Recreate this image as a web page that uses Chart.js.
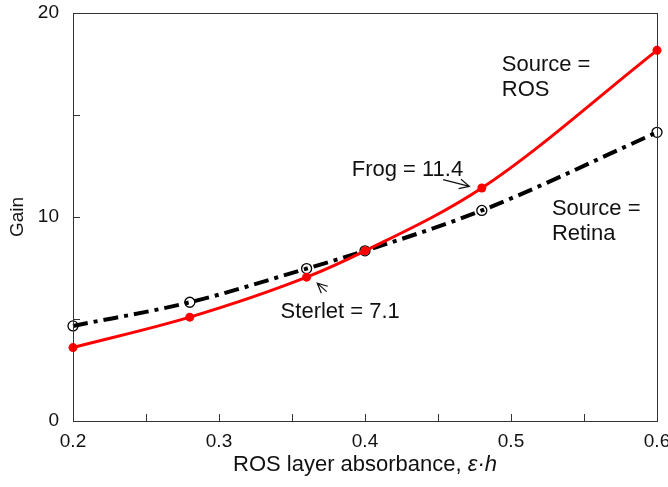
<!DOCTYPE html>
<html lang="en">
<head>
    <meta charset="UTF-8">
    <title>Gain vs ROS layer absorbance</title>
    <script src="https://cdn.jsdelivr.net/npm/chart.js"></script>
    <style>
        html, body { margin: 0; padding: 0; background: white; }
        .contenedor { width: 668px; height: 487px; position: relative; }
    </style>
</head>
<body>
    <div class="contenedor">
        <canvas id="grafico"></canvas>
    </div>

    <script>
        // data
        let absorbance = [0.2, 0.28, 0.36, 0.4, 0.48, 0.6];
        let gainROS = [3.6, 5.09, 7.05, 8.34, 11.42, 18.17];
        let gainRetina = [4.66, 5.82, 7.47, 8.34, 10.32, 14.15];

        let xTicks = [0.2, 0.25, 0.3, 0.35, 0.4, 0.45, 0.5, 0.55, 0.6];
        let xLabels = ['0.2', '', '0.3', '', '0.4', '', '0.5', '', '0.6'];
        let yTicks = [0, 5, 10, 15, 20];
        let yLabels = ['0', '', '10', '', '20'];

        // text notes, in data units (x = left edge, y = baseline of first line)
        let notes = [
            { lines: ['Source =', 'ROS'], x: 0.4937, y: 17.14 },
            { lines: ['Frog = 11.4'], x: 0.3909, y: 12.02 },
            { lines: ['Source =', 'Retina'], x: 0.528, y: 10.11 },
            { lines: ['Sterlet = 7.1'], x: 0.3422, y: 5.05 }
        ];
        let arrows = [
            { from: [0.4535, 11.83], to: [0.4715, 11.50] },
            { from: [0.3737, 6.34], to: [0.3673, 6.76] }
        ];

        const FUENTE = "'Liberation Sans', Arial, sans-serif";
        Chart.defaults.font.family = FUENTE;
        Chart.defaults.color = '#111';

        const marcoPlugin = {
            id: 'marco',
            afterDatasetsDraw(chart) {
                const ctx = chart.ctx;
                const a = chart.chartArea;
                const xs = chart.scales.x, ys = chart.scales.y;
                ctx.save();
                ctx.strokeStyle = '#333';
                ctx.lineWidth = 1;
                ctx.strokeRect(Math.round(a.left) + 0.5, Math.round(a.top) + 0.5,
                    Math.round(a.right - a.left), Math.round(a.bottom - a.top));
                // inward ticks
                ctx.beginPath();
                xTicks.forEach(v => {
                    const px = Math.round(xs.getPixelForValue(v)) + 0.5;
                    ctx.moveTo(px, a.bottom);
                    ctx.lineTo(px, a.bottom - 7);
                });
                yTicks.forEach(v => {
                    const py = Math.round(ys.getPixelForValue(v)) + 0.5;
                    ctx.moveTo(a.left, py);
                    ctx.lineTo(a.left + 7, py);
                });
                ctx.stroke();

                // x axis title, with italic epsilon·h
                ctx.fillStyle = '#111';
                ctx.textBaseline = 'middle';
                ctx.textAlign = 'left';
                const parte1 = 'ROS layer absorbance, ';
                const parte2 = '\u03B5\u00B7h';
                ctx.font = '22px ' + FUENTE;
                const w1 = ctx.measureText(parte1).width;
                ctx.font = 'italic 22px ' + FUENTE;
                const w2 = ctx.measureText(parte2).width;
                const x0 = (a.left + a.right) / 2 - (w1 + w2) / 2;
                ctx.font = '22px ' + FUENTE;
                ctx.fillText(parte1, x0, 465);
                ctx.font = 'italic 22px ' + FUENTE;
                ctx.fillText(parte2, x0 + w1, 465);

                // notes
                ctx.font = '22px ' + FUENTE;
                ctx.textBaseline = 'alphabetic';
                notes.forEach(n => {
                    const px = xs.getPixelForValue(n.x);
                    const py = ys.getPixelForValue(n.y);
                    n.lines.forEach((t, i) => ctx.fillText(t, px, py + i * 25));
                });

                // arrows (open heads)
                ctx.strokeStyle = '#111';
                ctx.lineWidth = 1.2;
                arrows.forEach(ar => {
                    const x1 = xs.getPixelForValue(ar.from[0]), y1 = ys.getPixelForValue(ar.from[1]);
                    const x2 = xs.getPixelForValue(ar.to[0]), y2 = ys.getPixelForValue(ar.to[1]);
                    const ang = Math.atan2(y2 - y1, x2 - x1);
                    ctx.beginPath();
                    ctx.moveTo(x1, y1);
                    ctx.lineTo(x2, y2);
                    ctx.moveTo(x2 - 11 * Math.cos(ang - 0.45), y2 - 11 * Math.sin(ang - 0.45));
                    ctx.lineTo(x2, y2);
                    ctx.lineTo(x2 - 11 * Math.cos(ang + 0.45), y2 - 11 * Math.sin(ang + 0.45));
                    ctx.stroke();
                });
                ctx.restore();
            }
        };

        let ctx = document.getElementById('grafico').getContext('2d');

        let chart = new Chart(ctx, {
            type: 'line',
            data: {
                datasets: [
                    {
                        label: 'Source = ROS',
                        data: absorbance.map((x, i) => ({ x: x, y: gainROS[i] })),
                        borderColor: '#ff0000',
                        backgroundColor: '#ff0000',
                        borderWidth: 3,
                        cubicInterpolationMode: 'monotone',
                        pointRadius: 4.5,
                        pointBorderWidth: 0,
                        pointBackgroundColor: '#ff0000',
                        clip: false
                    },
                    {
                        label: 'Source = Retina',
                        data: absorbance.map((x, i) => ({ x: x, y: gainRetina[i] })),
                        borderColor: '#000',
                        backgroundColor: 'rgba(0,0,0,0)',
                        borderWidth: 4,
                        borderDash: [15, 6, 4, 6],
                        cubicInterpolationMode: 'monotone',
                        pointRadius: 5,
                        pointBorderWidth: 1.3,
                        pointBorderColor: '#000',
                        pointBackgroundColor: 'rgba(0,0,0,0)',
                        clip: false
                    }
                ]
            },
            options: {
                responsive: true,
                maintainAspectRatio: false,
                animation: false,
                events: [],
                layout: { padding: { top: 13, right: 11, left: 0, bottom: 0 } },
                scales: {
                    x: {
                        type: 'linear',
                        min: 0.2,
                        max: 0.6,
                        afterBuildTicks: s => { s.ticks = xTicks.map(v => ({ value: v })); },
                        afterFit: s => { s.height = 66; s.paddingLeft = 0; s.paddingRight = 0; },
                        grid: { display: false, drawTicks: false },
                        border: { display: false },
                        ticks: {
                            autoSkip: false,
                            maxRotation: 0,
                            padding: 9,
                            font: { size: 19 },
                            color: '#111',
                            callback: (v, i) => xLabels[i]
                        },
                        title: { display: false }
                    },
                    y: {
                        min: 0,
                        max: 20,
                        afterBuildTicks: s => { s.ticks = yTicks.map(v => ({ value: v })); },
                        afterFit: s => { s.width = 73; s.paddingTop = 0; s.paddingBottom = 0; },
                        grid: { display: false, drawTicks: false },
                        border: { display: false },
                        ticks: {
                            autoSkip: false,
                            padding: 14,
                            font: { size: 19 },
                            color: '#111',
                            callback: (v, i) => yLabels[i]
                        },
                        title: {
                            display: true,
                            text: 'Gain',
                            font: { size: 19 },
                            color: '#111',
                            padding: { top: 6, bottom: 0 }
                        }
                    }
                },
                plugins: {
                    legend: { display: false },
                    tooltip: { enabled: false }
                }
            },
            plugins: [marcoPlugin]
        });
    </script>
</body>
</html>
